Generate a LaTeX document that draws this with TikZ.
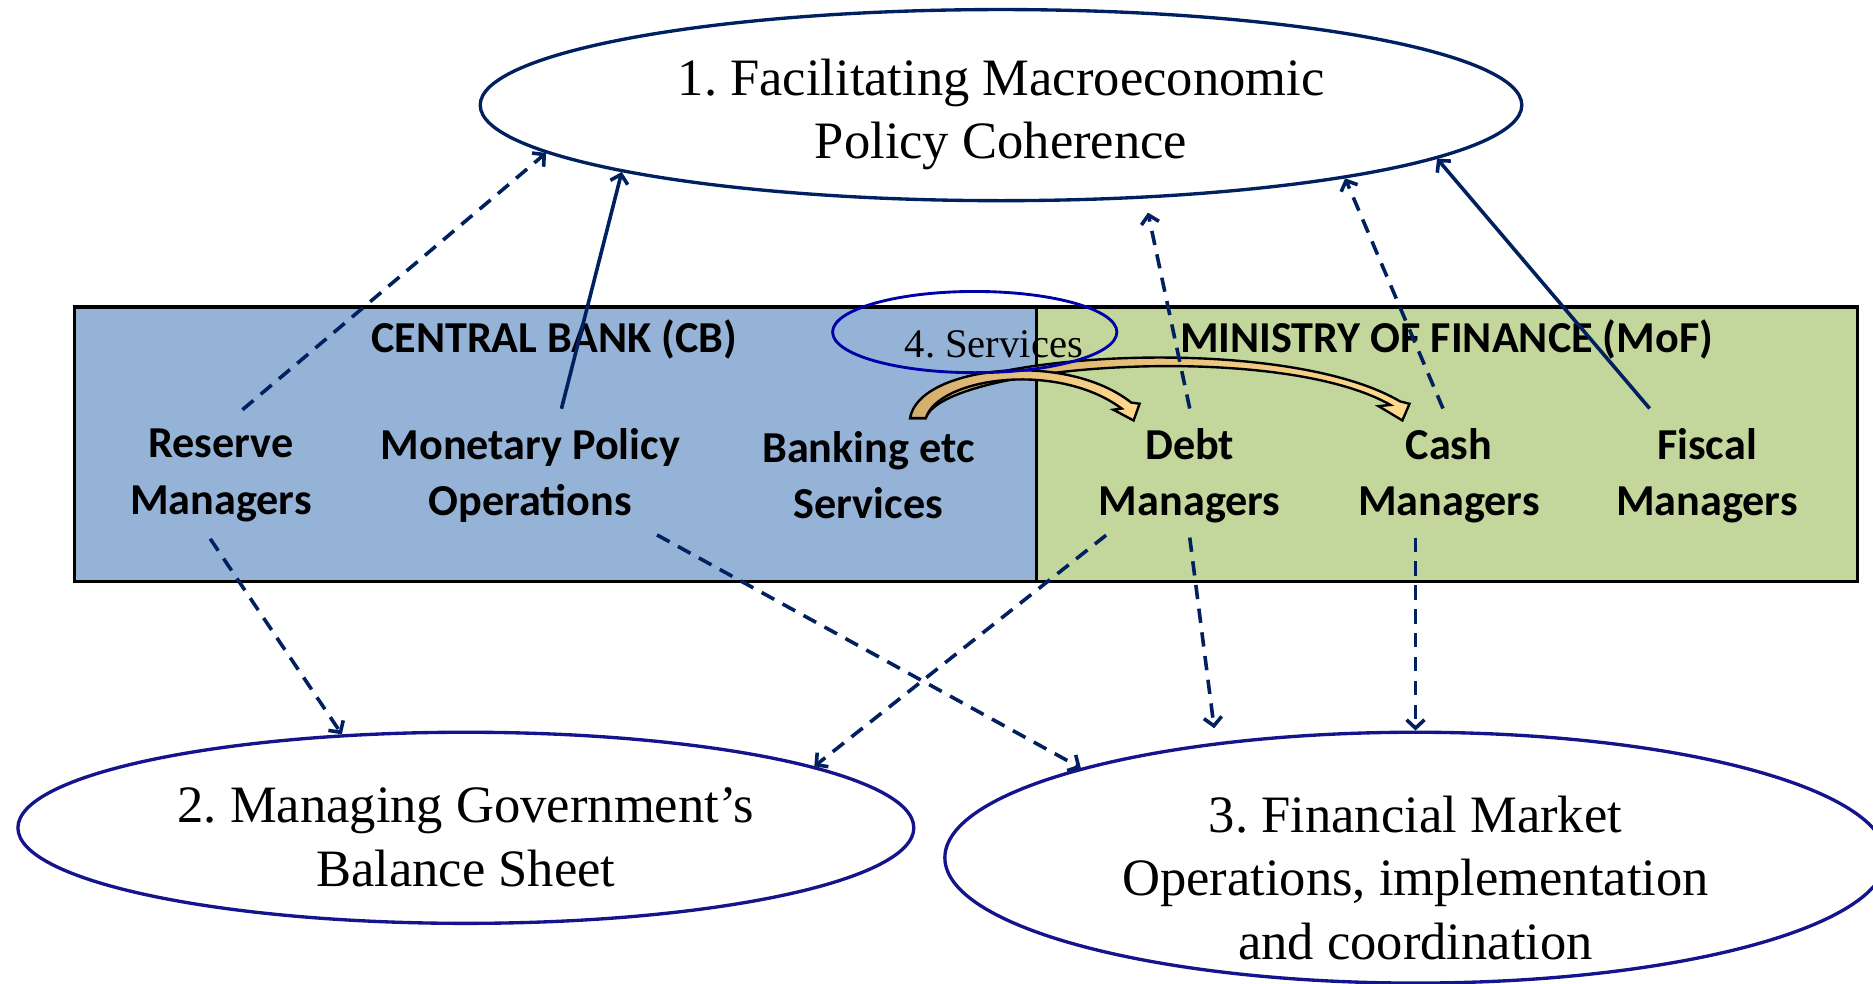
\documentclass[tikz,border=0pt]{standalone}
\usepackage{fontspec}
\setmainfont{Liberation Serif}
\newfontfamily\calibri{Carlito}
\usetikzlibrary{shapes.geometric,arrows.meta,positioning}
\frenchspacing

\definecolor{cbblue}{HTML}{95B3D7}
\definecolor{mofgreen}{HTML}{C3D69B}
\definecolor{linknavy}{HTML}{002060}
\definecolor{ringblue}{HTML}{14148C}
\definecolor{servblue}{HTML}{0000A8}
\definecolor{tanlight}{HTML}{FFD98C}
\definecolor{tandark}{HTML}{D2AC6C}

\tikzset{
  goal/.style={ellipse, draw=ringblue, line width=1.4pt, inner sep=0pt},
  goaltext/.style={align=center, font=\fontsize{22}{26.5}\selectfont},
  actor/.style={align=center, inner sep=2pt, font=\calibri\bfseries\fontsize{18.5}{23.5}\selectfont},
  boxtitle/.style={font=\calibri\bfseries\fontsize{18.5}{22}\selectfont},
  unit/.style={draw=black, line width=1.3pt, inner sep=0pt, minimum height=115pt},
  flow/.style={draw=linknavy, line width=1.5pt, -{Straight Barb[length=3.5pt,width=7.5pt]}},
  dflow/.style={flow, dash pattern=on 6pt off 4pt},
  service/.style={draw=black, line width=1pt, left color=tandark, right color=tanlight},
}

\begin{document}
\begin{tikzpicture}[x=0.5pt,y=-0.5pt]
\useasboundingbox (0,0) rectangle (1568,823);
\clip (0,0) rectangle (1568,823);

% the two institutions
\node[unit, fill=cbblue, minimum width=403pt] (cb) at (465,372) {};
\node[unit, fill=mofgreen, minimum width=343.5pt] (mof) at (1211.5,372) {};
\node[boxtitle] (cbtitle) at (464,284) {CENTRAL BANK (CB)};
\node[boxtitle] (moftitle) at (1211,284) {MINISTRY OF FINANCE (MoF)};

\node[actor] (res) at (185,398) {Reserve\\Managers};
\node[actor] (mon) at (444,398) {Monetary Policy\\Operations};
\node[actor] (bank) at (727,398) {Banking etc\\Services};
\node[actor] (debt) at (996,398) {Debt\\Managers};
\node[actor] (cash) at (1213,398) {Cash\\Managers};
\node[actor] (fis) at (1429,398) {Fiscal\\Managers};

% services from the CB to the MoF
\filldraw[service]
  (762,350) .. controls (770,296) and (1070,276) .. (1172,336)
  -- (1180,338) -- (1174,352) -- (1154,340) -- (1164,339)
  .. controls (1070,285) and (790,305) .. (775,350) -- cycle;
\filldraw[service]
  (762,350) .. controls (768,308) and (890,292) .. (947,337)
  -- (954,338) -- (949,352) -- (932,343) -- (939,342)
  .. controls (885,302) and (786,316) .. (775,350) -- cycle;
\node[ellipse, draw=servblue, line width=1.2pt, inner sep=0pt,
      minimum width=119pt, minimum height=34pt] (serv) at (816,278) {};
\node[font=\fontsize{17}{20}\selectfont] (servtext) at (832,288) {4. Services};

% the three objectives
\node[goal, draw=linknavy, minimum width=436pt, minimum height=80pt] (g1) at (838,88) {};
\node[goaltext] (g1text) at (838,96) {1. Facilitating Macroeconomic\\Policy Coherence};
\node[goal, minimum width=375pt, minimum height=80pt] (g2) at (390,693) {};
\node[goaltext] (g2text) at (390,701) {2. Managing Government's\\Balance Sheet};
\node[goal, minimum width=394pt, minimum height=105pt] (g3) at (1185,718) {};
\node[goaltext] (g3text) at (1185,735) {3. Financial Market\\Operations, implementation\\and coordination};

% links up
\draw[dflow] ([xshift=9pt,yshift=6pt]res.north) -- (g1.186);
\draw[flow] ([xshift=13pt,yshift=6pt]mon.north) -- (g1.190.5);
\draw[dflow, shorten >=6pt] ([yshift=6pt]debt.north) -- (g1.327);
\draw[dflow] ([xshift=-2.5pt,yshift=6pt]cash.north) -- (g1.348.2);
\draw[flow] ([xshift=-24pt,yshift=6pt]fis.north) -- (g1.353.4);

% links down
\draw[dflow] ([xshift=-4.5pt,yshift=-5pt]res.south) -- (g2.143);
\draw[dflow] ([xshift=53pt,yshift=-3pt]mon.south) -- (g3.165);
\draw[dflow] ([xshift=-35pt,yshift=-3pt]debt.south) -- (g2.10);
\draw[dflow, shorten >=6pt] ([yshift=-4pt]debt.south) -- (g3.150);
\draw[dflow] ([yshift=-4pt]cash.south -| g3.north) -- (g3.north);
\end{tikzpicture}
\end{document}
